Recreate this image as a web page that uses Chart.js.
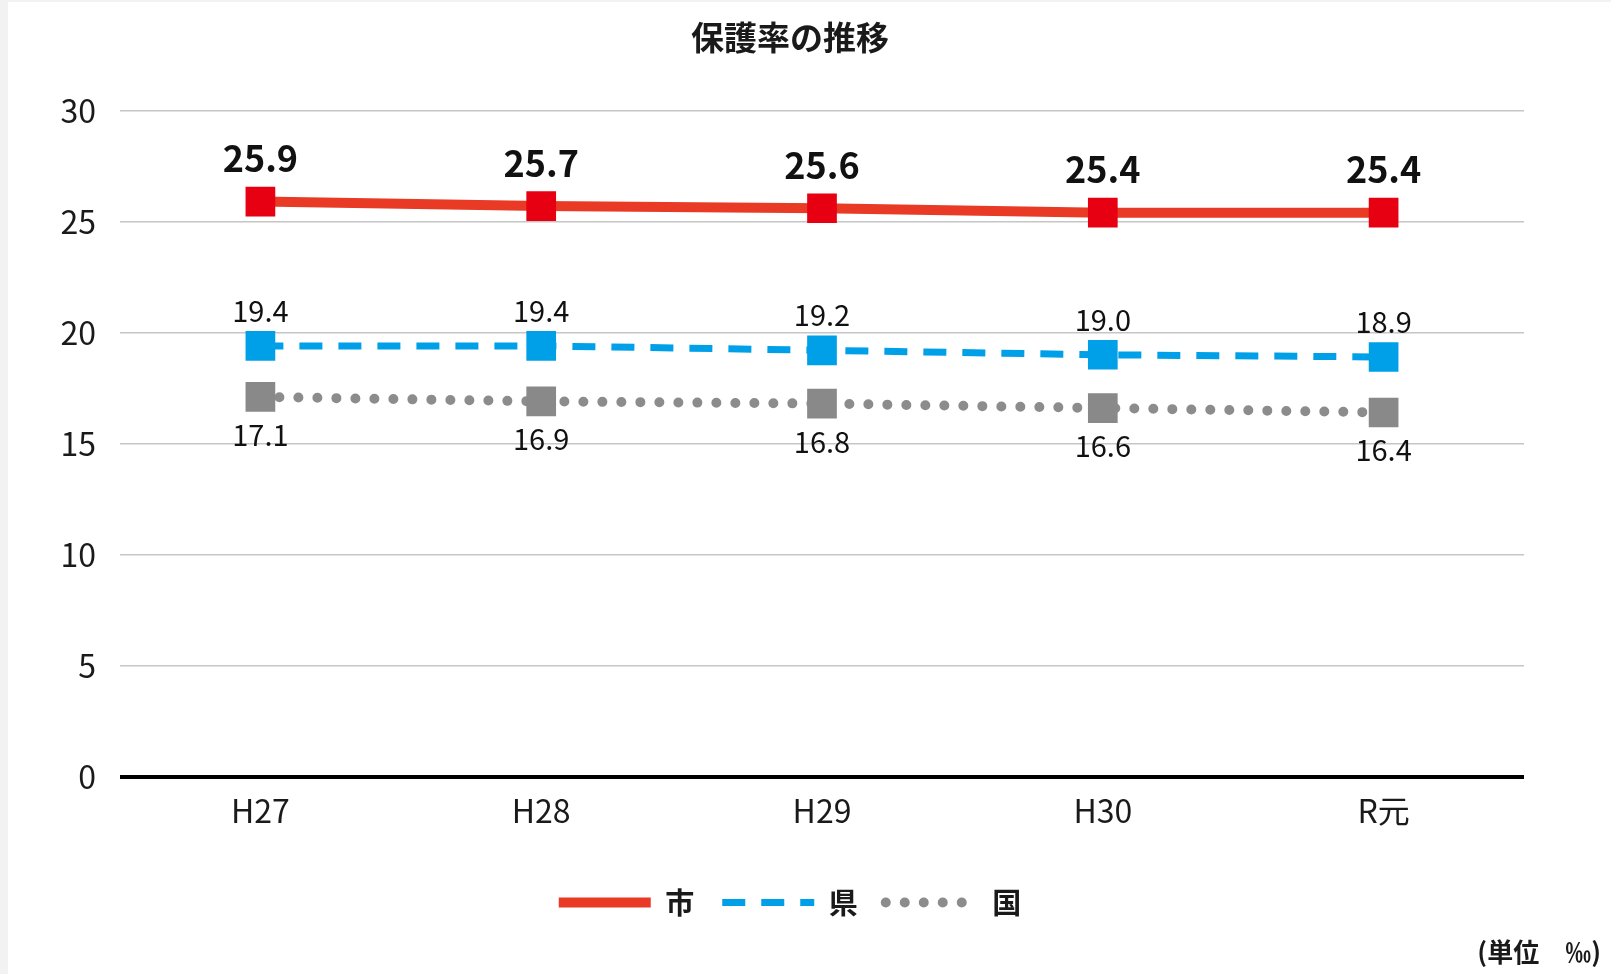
<!DOCTYPE html>
<html lang="ja">
<head>
<meta charset="utf-8">
<title>保護率の推移</title>
<script src="https://cdn.jsdelivr.net/npm/chart.js@4"></script>
<style>
  html, body { margin: 0; padding: 0; background: #f2f2f2; }
  #wrap {
    position: absolute; left: 8px; top: 2px;
    width: 1603px; height: 972px; background: #fff;
  }
  #unit {
    position: absolute; right: 10px; top: 930px;
    font: bold 26px "Noto Sans CJK JP", sans-serif; color: #1a1a1a;
  }
</style>
</head>
<body>
<div id="wrap">
  <canvas id="rateChart" width="1603" height="972"></canvas>
  <div id="unit">(単位　‰)</div>
</div>
<script>
// データ
const categories = ['H27', 'H28', 'H29', 'H30', 'R元'];
const shiValues = [25.9, 25.7, 25.6, 25.4, 25.4];   // 市
const kenValues = [19.4, 19.4, 19.2, 19.0, 18.9];   // 県
const kuniValues = [17.1, 16.9, 16.8, 16.6, 16.4];  // 国
const yTickValues = [0, 5, 10, 15, 20, 25, 30];

const FONT = '"Noto Sans CJK JP", "Noto Sans", sans-serif';

// 値ラベル
const valueLabels = {
  id: 'valueLabels',
  afterDatasetsDraw(chart) {
    const ctx = chart.ctx;
    chart.data.datasets.forEach((ds, di) => {
      const meta = chart.getDatasetMeta(di);
      const opt = ds.labelOpts;
      ctx.save();
      ctx.font = opt.font;
      ctx.fillStyle = '#111';
      ctx.textAlign = 'center';
      ctx.textBaseline = 'middle';
      meta.data.forEach((pt, i) => {
        ctx.fillText(ds.data[i].toFixed(1), pt.x, pt.y + opt.dy);
      });
      ctx.restore();
    });
  }
};

const ctx = document.getElementById('rateChart').getContext('2d');
new Chart(ctx, {
  type: 'line',
  data: {
    labels: categories,
    datasets: [
      {
        label: '市',
        data: shiValues,
        borderColor: '#e83a24',
        borderWidth: 10,
        pointStyle: 'rect',
        pointRadius: 21,
        pointBackgroundColor: '#e60012',
        pointBorderWidth: 0,
        tension: 0,
        labelOpts: { font: 'bold 36px ' + FONT, dy: -43 }
      },
      {
        label: '県',
        data: kenValues,
        borderColor: '#00a0e9',
        borderWidth: 7,
        borderDash: [23, 16],
        pointStyle: 'rect',
        pointRadius: 21,
        pointBackgroundColor: '#00a0e9',
        pointBorderWidth: 0,
        tension: 0,
        labelOpts: { font: '29px ' + FONT, dy: -35 }
      },
      {
        label: '国',
        data: kuniValues,
        borderColor: '#8c8c8c',
        borderWidth: 10,
        borderDash: [0, 19],
        borderCapStyle: 'round',
        pointStyle: 'rect',
        pointRadius: 21,
        pointBackgroundColor: '#898989',
        pointBorderWidth: 0,
        tension: 0,
        labelOpts: { font: '29px ' + FONT, dy: 38 }
      }
    ]
  },
  options: {
    responsive: false,
    animation: false,
    layout: { padding: { left: 48, right: 87, top: 0, bottom: 47 } },
    plugins: {
      title: {
        display: true,
        text: '保護率の推移',
        color: '#1a1a1a',
        font: { family: FONT, size: 33, weight: 'bold' },
        padding: { top: 16, bottom: 53 }
      },
      legend: {
        display: true,
        position: 'bottom',
        labels: {
          usePointStyle: true,
          pointStyleWidth: 92,
          padding: 28,
          color: '#1a1a1a',
          font: { family: FONT, size: 29, weight: 'bold' },
          generateLabels(chart) {
            return chart.data.datasets.map((ds, i) => ({
              text: ds.label,
              datasetIndex: i,
              fillStyle: ds.borderColor,
              strokeStyle: ds.borderColor,
              fontColor: '#1a1a1a',
              lineWidth: ds.borderWidth,
              lineDash: ds.borderDash || [],
              lineCap: ds.borderCapStyle || 'butt',
              pointStyle: 'line',
              hidden: false
            }));
          }
        }
      },
      tooltip: { enabled: false }
    },
    scales: {
      x: {
        offset: true,
        grid: { display: false, drawTicks: false },
        border: { display: false },
        ticks: {
          padding: 15,
          color: '#1a1a1a',
          font: { family: FONT, size: 32 }
        },
        afterFit(scale) { scale.height = 83.5; }
      },
      y: {
        min: 0,
        max: 30,
        afterBuildTicks(scale) {
          scale.ticks = yTickValues.map(v => ({ value: v }));
        },
        grid: {
          drawTicks: false,
          color: c => c.tick && c.tick.value === 0 ? '#000' : '#c6c6c6',
          lineWidth: c => c.tick && c.tick.value === 0 ? 4 : 1.5
        },
        border: { display: false },
        ticks: {
          padding: 24,
          color: '#1a1a1a',
          font: { family: FONT, size: 32 }
        },
        afterFit(scale) { scale.width = 64; }
      }
    }
  },
  plugins: [valueLabels]
});
</script>
</body>
</html>
